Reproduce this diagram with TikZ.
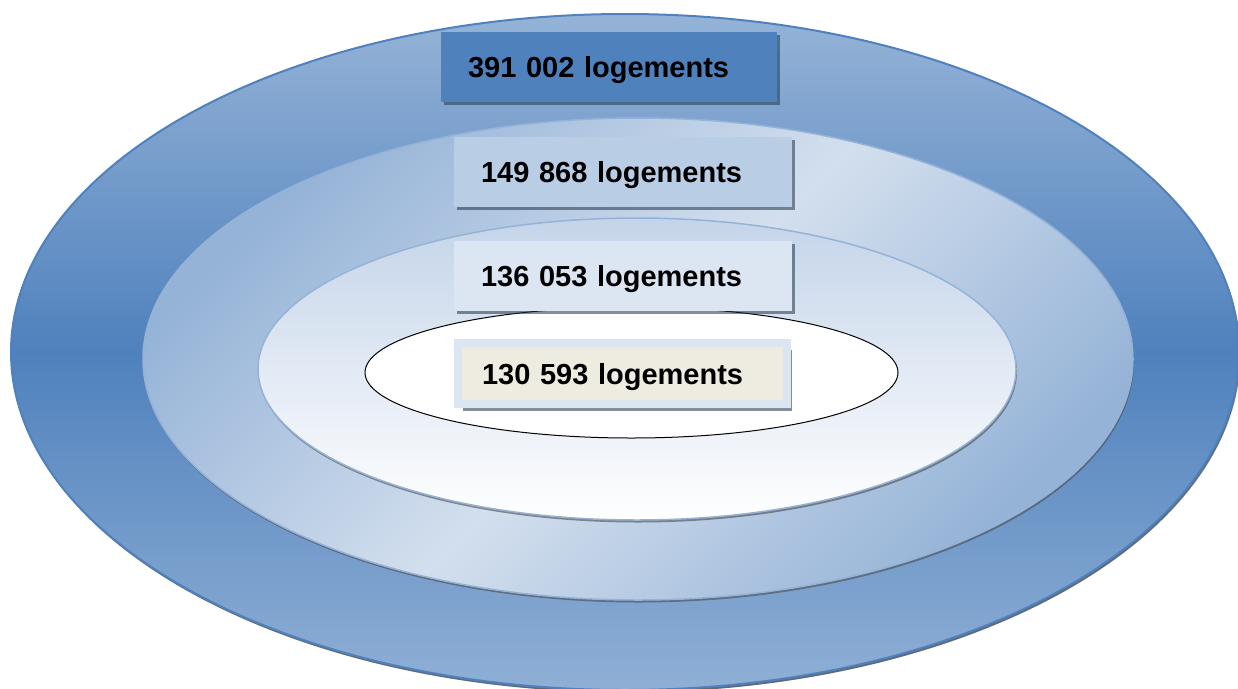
\documentclass[tikz,border=0pt]{standalone}
\usepackage{fontspec}
\setmainfont{Liberation Sans}
\usepackage{tikz}
\usetikzlibrary{shapes.geometric,shadows}
\definecolor{ringdark}{HTML}{4F81BD}
\definecolor{ringmid}{HTML}{95B3D7}
\definecolor{ringlight}{HTML}{D3DFEE}
\definecolor{ringpale}{HTML}{C4D4E9}
\definecolor{boxmid}{HTML}{B9CDE5}
\definecolor{boxpale}{HTML}{DCE6F2}
\definecolor{boxbeige}{HTML}{EEECE1}

\begin{document}
\begin{tikzpicture}[x=1pt,y=-1pt,
  font=\fontsize{29}{34}\selectfont\bfseries,
  ring/.style={ellipse,inner sep=0pt,draw=ringmid,line width=1.5pt,
    drop shadow={shadow xshift=1pt,shadow yshift=-2.5pt,fill=black!70,opacity=.6}},
  countbox/.style={rectangle,minimum height=70pt,text width=284pt,inner xsep=27pt,align=left,
    text height=21pt,text depth=0pt,
    drop shadow={shadow xshift=2.5pt,shadow yshift=-3pt,fill=ringdark!40!black,opacity=.55}}
]
\useasboundingbox (0,0) rectangle (1238,688);

\node[ring,draw=ringdark,line width=2pt,minimum width=1228pt,minimum height=676pt,
  drop shadow={shadow xshift=1.5pt,shadow yshift=-2.5pt,fill=ringdark!50!black},
  top color=ringmid,bottom color=ringmid!92!ringdark,middle color=ringdark] (outer) at (625,352) {};
\node[ring,minimum width=990pt,minimum height=482pt,
  top color=ringmid,bottom color=ringmid,middle color=ringlight,shading angle=45] (middle) at (638,359) {};
\node[ring,minimum width=758pt,minimum height=302pt,
  top color=ringpale,bottom color=white] (inner) at (637,369) {};
\node[ellipse,draw=black,line width=1pt,fill=white,minimum width=533pt,minimum height=131pt] (core) at (631.5,372.5) {};

\node[countbox,fill=ringdark,text width=282pt] (n391) at (609,67) {391 002 logements};
\node[countbox,fill=boxmid] (n149) at (623,172) {149 868 logements};
\node[countbox,fill=boxpale] (n136) at (623,275.5) {136 053 logements};
\node[countbox,fill=boxbeige,draw=boxpale,line width=8pt,minimum height=61pt,
  inner xsep=24pt,text width=281pt,
  drop shadow={shadow xshift=5pt,shadow yshift=-6.5pt,fill=ringdark!40!black,opacity=.55}] (n130) at (622.5,373.5) {130 593 logements};
\end{tikzpicture}
\end{document}
